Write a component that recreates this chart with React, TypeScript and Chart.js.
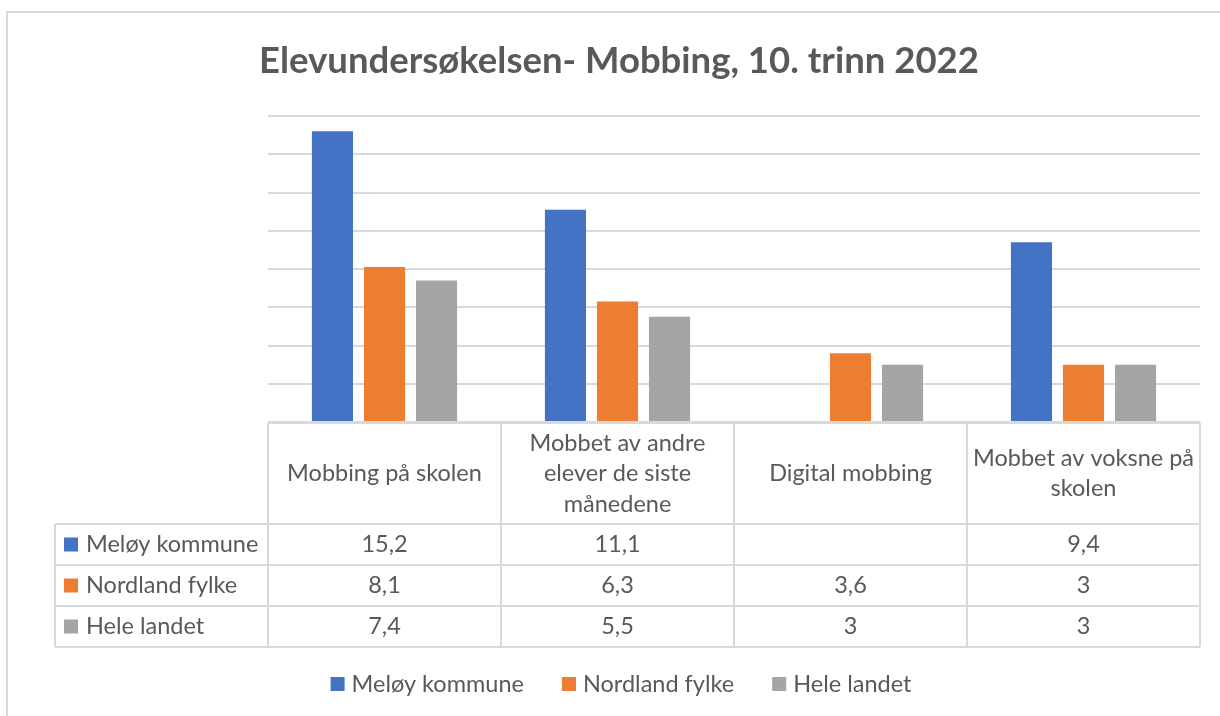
import React, { useEffect, useRef } from "react";
import { Chart, registerables } from "chart.js";

Chart.register(...registerables);

const chartTitle = "Elevundersøkelsen- Mobbing, 10. trinn 2022";
const categories = [
  "Mobbing på skolen",
  "Mobbet av andre elever de siste månedene",
  "Digital mobbing",
  "Mobbet av voksne på skolen",
];
const headerLines = [
  ["Mobbing på skolen"],
  ["Mobbet av andre", "elever de siste", "månedene"],
  ["Digital mobbing"],
  ["Mobbet av voksne på", "skolen"],
];
const seriesNames = ["Meløy kommune", "Nordland fylke", "Hele landet"];
const meloyKommune: (number | null)[] = [15.2, 11.1, null, 9.4];
const nordlandFylke: (number | null)[] = [8.1, 6.3, 3.6, 3];
const heleLandet: (number | null)[] = [7.4, 5.5, 3, 3];
const seriesColors = ["#4472C4", "#ED7D31", "#A5A5A5"];
const yMax = 16;
const yStep = 2;

const FONT = "Lato, 'Open Sans', sans-serif";
const TEXT = "#595959";
const LINE = "#d9d9d9";

const fmt = (v: number | null) => (v === null || v === undefined ? "" : String(v).replace(".", ","));

const tablePlugin = {
  id: "excelTable",
  beforeDraw(chart: any) {
    const ctx = chart.ctx;
    ctx.save();
    ctx.fillStyle = "#ffffff";
    ctx.fillRect(0, 0, chart.width, chart.height);
    ctx.strokeStyle = LINE;
    ctx.lineWidth = 2;
    ctx.strokeRect(7, 12, chart.width + 20, chart.height + 20);
    ctx.restore();
  },
  afterDraw(chart: any) {
    const ctx = chart.ctx;
    const area = chart.chartArea;
    const n = chart.data.labels.length;
    const colW = (area.right - area.left) / n;
    const top = area.bottom + 1;
    const headerH = 101;
    const rowH = 41;
    const labelLeft = 55;
    const datasets = chart.data.datasets;
    const bottom = top + headerH + rowH * datasets.length;

    ctx.save();
    // title
    ctx.fillStyle = TEXT;
    ctx.font = `bold 36.5px ${FONT}`;
    ctx.textAlign = "center";
    ctx.textBaseline = "alphabetic";
    ctx.fillText(chartTitle, 619, 73);

    // table lines
    ctx.strokeStyle = LINE;
    ctx.lineWidth = 2;
    ctx.beginPath();
    ctx.moveTo(area.left, top);
    ctx.lineTo(area.right, top);
    for (let r = 0; r <= datasets.length; r++) {
      const y = top + headerH + r * rowH;
      ctx.moveTo(labelLeft, y);
      ctx.lineTo(area.right, y);
    }
    for (let c = 0; c <= n; c++) {
      const x = area.left + c * colW;
      ctx.moveTo(x, top);
      ctx.lineTo(x, bottom);
    }
    ctx.moveTo(labelLeft, top + headerH);
    ctx.lineTo(labelLeft, bottom);
    ctx.stroke();

    // header text
    ctx.fillStyle = TEXT;
    ctx.font = `23.5px ${FONT}`;
    ctx.textAlign = "center";
    ctx.textBaseline = "middle";
    const lh = 30.5;
    headerLines.forEach((lines, c) => {
      const cx = area.left + (c + 0.5) * colW;
      const cy = top + headerH / 2;
      lines.forEach((t, i) => {
        ctx.fillText(t, cx, cy + (i - (lines.length - 1) / 2) * lh);
      });
    });

    // rows
    datasets.forEach((ds: any, r: number) => {
      const cy = top + headerH + (r + 0.5) * rowH;
      ctx.fillStyle = ds.backgroundColor;
      ctx.fillRect(64, cy - 7, 14, 14);
      ctx.fillStyle = TEXT;
      ctx.textAlign = "left";
      ctx.fillText(ds.label, 86, cy);
      ctx.textAlign = "center";
      ds.data.forEach((v: number | null, c: number) => {
        ctx.fillText(fmt(v), area.left + (c + 0.5) * colW, cy);
      });
    });

    // legend
    const box = 14;
    const gap = 7;
    const spacing = 38;
    const widths = datasets.map((ds: any) => box + gap + ctx.measureText(ds.label).width);
    const total = widths.reduce((a: number, b: number) => a + b, 0) + spacing * (datasets.length - 1);
    let x = 621 - total / 2;
    const ly = 684;
    ctx.textAlign = "left";
    datasets.forEach((ds: any, i: number) => {
      ctx.fillStyle = ds.backgroundColor;
      ctx.fillRect(x, ly - 7, box, box);
      ctx.fillStyle = TEXT;
      ctx.fillText(ds.label, x + box + gap, ly);
      x += widths[i] + spacing;
    });
    ctx.restore();
  },
};

export default function App() {
  const ref = useRef<HTMLCanvasElement | null>(null);

  useEffect(() => {
    if (!ref.current) return;
    const seriesValues = [meloyKommune, nordlandFylke, heleLandet];
    const chart = new Chart(ref.current, {
      type: "bar",
      data: {
        labels: categories,
        datasets: seriesNames.map((name, i) => ({
          label: name,
          data: seriesValues[i],
          backgroundColor: seriesColors[i],
          borderWidth: 0,
          categoryPercentage: 0.67,
          barPercentage: 0.79,
        })),
      },
      options: {
        responsive: false,
        maintainAspectRatio: false,
        animation: false,
        layout: { padding: { left: 268, right: 20, top: 116, bottom: 294 } },
        plugins: {
          legend: { display: false },
          title: { display: false },
          tooltip: { enabled: false },
        },
        scales: {
          x: { display: false },
          y: {
            display: true,
            min: 0,
            max: yMax,
            ticks: { display: false, stepSize: yStep },
            border: { display: false },
            grid: { color: LINE, lineWidth: 2, drawTicks: false },
          },
        },
      },
      plugins: [tablePlugin],
    });
    return () => chart.destroy();
  }, []);

  return (
    <div style={{ position: "fixed", left: 0, top: 0, width: 1220, height: 716, background: "#fff" }}>
      <canvas ref={ref} width={1220} height={716} style={{ display: "block", width: 1220, height: 716 }} />
    </div>
  );
}
